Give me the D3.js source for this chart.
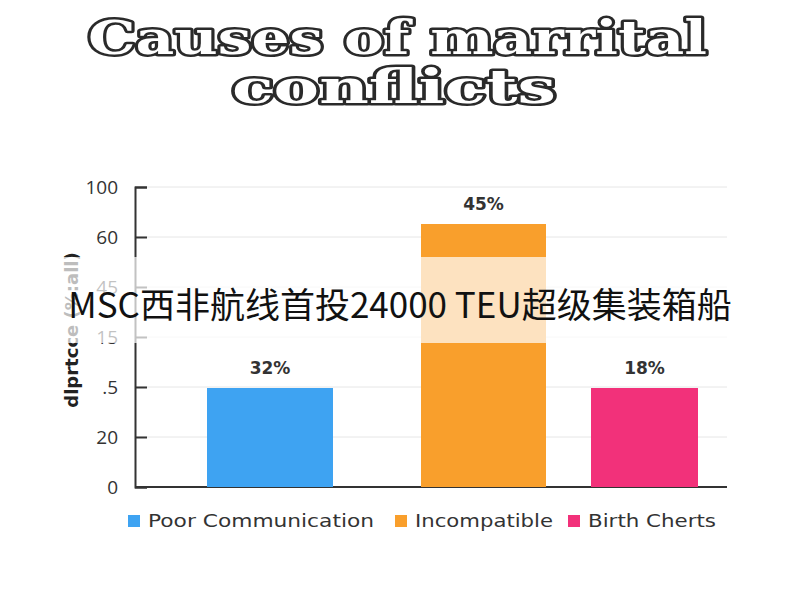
<!DOCTYPE html><html><head><meta charset="utf-8"><script src="https://cdn.jsdelivr.net/npm/d3@7"></script>
<style>body{margin:0;background:#fff}</style></head><body><script>
const categories=["Poor Communication","Incompatible","Birth Cherts"];
const values=[1.98,5.26,1.98];
const valueLabels=["32%","45%","18%"];
const tickLabels=["0","20",".5","15","45","60","100"];
const colors=["#3ea3f2","#f99f2c","#f2317a"];
const svg=d3.select("body").append("svg").attr("width",800).attr("height",600);
const y=d3.scaleLinear().domain([0,6]).range([487,187]);
const x=d3.scaleOrdinal().domain(categories).range([207,421,591]);
const w=[126,125,107];
[["Causes of marrital",88,619,54],["conflicts",232,324,103]].forEach(([t,x0,len,yy])=>svg.append("text").attr("x",x0).attr("y",yy)
 .attr("textLength",len).attr("lengthAdjust","spacingAndGlyphs")
 .attr("font-family","DejaVu Serif").attr("font-weight","bold").attr("font-size",46).attr("fill","#fff").attr("stroke","#2a2a2a").attr("stroke-width",5).attr("stroke-linejoin","round").attr("paint-order","stroke").text(t));
const g=svg.append("g");
d3.range(7).forEach(i=>g.append("line").attr("x1",135).attr("x2",727).attr("y1",y(i)).attr("y2",y(i)).attr("stroke","#e6e6e6"));
const ax=g.append("g").attr("transform","translate(135,0)").call(d3.axisLeft(y).tickValues(d3.range(7)).tickFormat(i=>tickLabels[i]).tickSize(-12).tickPadding(17));
ax.selectAll("line").attr("stroke","#333").attr("stroke-width",2);
ax.select(".domain").attr("stroke","#333").attr("stroke-width",2);
ax.selectAll("text").attr("font-family","Open Sans").attr("font-size",19).attr("fill","#333");
g.append("line").attr("x1",135).attr("x2",727).attr("y1",y(0)).attr("y2",y(0)).attr("stroke","#333").attr("stroke-width",2);
categories.forEach((c,i)=>{
 g.append("rect").attr("x",x(c)).attr("y",y(values[i])).attr("width",w[i]).attr("height",y(0)-y(values[i])).attr("fill",colors[i]);
 g.append("text").attr("x",x(c)+w[i]/2).attr("y",y(values[i])-14).attr("text-anchor","middle").attr("font-family","DejaVu Sans").attr("font-weight","bold").attr("font-size",17).attr("fill","#333").text(valueLabels[i]);
});
svg.append("text").attr("transform","translate(78,330) rotate(-90)").attr("text-anchor","middle").attr("font-family","DejaVu Sans").attr("font-weight","bold").attr("font-size",18).attr("fill","#222").text("dlprtcce (%:all)");
const lx=[128,395,568],lw=[226,138,128];
categories.forEach((c,i)=>{svg.append("rect").attr("x",lx[i]).attr("y",515).attr("width",12).attr("height",12).attr("fill",colors[i]);
 svg.append("text").attr("x",lx[i]+20).attr("y",527).attr("textLength",lw[i]).attr("lengthAdjust","spacingAndGlyphs").attr("font-family","DejaVu Sans").attr("font-size",18).attr("fill","#333").text(c);});
svg.append("rect").attr("x",0).attr("y",257).attr("width",800).attr("height",86).attr("fill","#fff").attr("opacity",0.7);
svg.append("text").attr("x",400).attr("y",318).attr("text-anchor","middle").attr("font-family","Noto Sans CJK SC").attr("font-size",35).attr("fill","#111").text("MSC西非航线首投24000 TEU超级集装箱船");
</script></body></html>
